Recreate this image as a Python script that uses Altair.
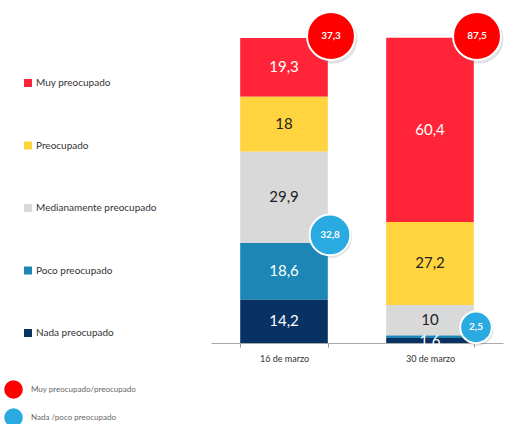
import altair as alt
import pandas as pd

dates = ["16 de marzo", "30 de marzo"]
categories = ["Muy preocupado", "Preocupado", "Medianamente preocupado",
              "Poco preocupado", "Nada preocupado"]
colors = ["#FF2438", "#FFD43F", "#D9D9D9", "#1C86B5", "#073263"]
vals_16 = [19.3, 18, 29.9, 18.6, 14.2]
vals_30 = [60.4, 27.2, 10, 0.9, 1.6]

bubble_groups = ["Muy preocupado/preocupado", "Nada /poco preocupado"]
bubble_colors = ["#FF0000", "#29ABE2"]
worried_totals = [37.3, 87.5]
calm_totals = [32.8, 2.5]

FONT = "Lato"


def fmt(v):
    return f"{v:g}".replace(".", ",")


rows = []
for d, vals in zip(dates, [vals_16, vals_30]):
    for i, (c, v) in enumerate(zip(categories, vals)):
        rows.append({"date": d, "cat": c, "idx": len(categories) - i,
                     "value": v, "label": fmt(v)})
df = pd.DataFrame(rows)

brows = []
for d, vals, w, cl in zip(dates, [vals_16, vals_30], worried_totals, calm_totals):
    brows.append({"date": d, "group": bubble_groups[0], "value": w,
                  "label": fmt(w), "ypos": min(sum(vals), 100)})
    brows.append({"date": d, "group": bubble_groups[1], "value": cl,
                  "label": fmt(cl), "ypos": cl})
bdf = pd.DataFrame(brows)

xenc = alt.X("date:N",
             scale=alt.Scale(domain=dates, paddingInner=0.4, paddingOuter=0.2),
             axis=alt.Axis(title=None, labelAngle=0, tickBand="extent",
                           labelFont=FONT, labelFontSize=9, labelColor="#333",
                           labelPadding=7, tickSize=4, tickColor="#999",
                           domainColor="#aaa", domainWidth=1.2))
yscale = alt.Scale(domain=[0, 100], nice=False, zero=True)

base = alt.Chart(df).transform_stack(
    stack="value", groupby=["date"], sort=[alt.SortField("idx", order="ascending")],
    as_=["y0", "y1"]
)

bars = base.mark_bar(stroke=None).encode(
    x=xenc,
    y=alt.Y("y0:Q", scale=yscale, axis=None),
    y2="y1:Q",
    color=alt.Color("cat:N",
                    scale=alt.Scale(domain=categories, range=colors),
                    legend=alt.Legend(title=None, orient="none", legendX=-188,
                                      legendY=40, symbolType="square",
                                      symbolSize=64, symbolStrokeWidth=0,
                                      labelFont=FONT, labelFontSize=10,
                                      labelColor="#333", rowPadding=52.5,
                                      labelOffset=3, labelLimit=300)),
)

texts = base.transform_calculate(
    mid="(datum.y0 + datum.y1) / 2"
).transform_filter("datum.value >= 1").mark_text(
    font=FONT, fontSize=15, baseline="middle"
).encode(
    x=alt.X("date:N", scale=alt.Scale(domain=dates, paddingInner=0.4, paddingOuter=0.2)),
    y=alt.Y("mid:Q", scale=yscale),
    text="label:N",
    color=alt.condition(
        "datum.cat == 'Preocupado' || datum.cat == 'Medianamente preocupado'",
        alt.value("#222222"), alt.value("#ffffff")),
)

bbase = alt.Chart(bdf)
fill_enc = alt.Fill("group:N",
                    scale=alt.Scale(domain=bubble_groups, range=bubble_colors),
                    legend=alt.Legend(title=None, orient="none", legendX=-207,
                                      legendY=342, symbolType="circle",
                                      symbolSize=346, symbolStrokeWidth=0,
                                      labelFont=FONT, labelFontSize=8,
                                      labelColor="#666", rowPadding=9,
                                      labelOffset=8, labelLimit=300))

red = bbase.transform_filter(f"datum.group == '{bubble_groups[0]}'")
blue = bbase.transform_filter(f"datum.group == '{bubble_groups[1]}'")

red_shadow = red.mark_circle(xOffset=49, yOffset=1, opacity=0.22, color="#777").encode(
    x="date:N", y=alt.Y("ypos:Q", scale=yscale), size=alt.value(2400))
red_c = red.mark_circle(xOffset=47, yOffset=-2, opacity=1, stroke="white",
                        strokeWidth=2).encode(
    x="date:N", y=alt.Y("ypos:Q", scale=yscale), fill=fill_enc, size=alt.value(2300))
red_t = red.mark_text(xOffset=47, yOffset=-2, font=FONT, fontSize=10,
                      fontWeight="bold", color="white").encode(
    x="date:N", y=alt.Y("ypos:Q", scale=yscale), text="label:N")

bsize = alt.Size("value:Q", scale=alt.Scale(domain=[2.5, 32.8], range=[1000, 1660]),
                 legend=None)
blue_shadow = blue.mark_circle(xOffset=47, yOffset=-6, opacity=0.22, color="#777").encode(
    x="date:N", y=alt.Y("ypos:Q", scale=yscale),
    size=alt.Size("value:Q", scale=alt.Scale(domain=[2.5, 32.8], range=[1080, 1760]),
                  legend=None))
blue_c = blue.mark_circle(xOffset=46, yOffset=-8, opacity=1, stroke="white",
                          strokeWidth=2).encode(
    x="date:N", y=alt.Y("ypos:Q", scale=yscale), fill=fill_enc, size=bsize)
blue_t = blue.mark_text(xOffset=46, yOffset=-8, font=FONT, fontSize=10,
                        fontWeight="bold", color="white").encode(
    x="date:N", y=alt.Y("ypos:Q", scale=yscale), text="label:N")

chart = alt.layer(
    bars, texts, red_shadow, red_c, red_t, blue_shadow, blue_c, blue_t
).resolve_scale(size="independent").properties(
    width=292, height=305,
    autosize=alt.AutoSizeParams(type="none"),
    padding={"left": 211, "top": 38, "right": 7, "bottom": 81},
    background="white",
).configure_view(stroke=None)

chart.save("out.html", embed_options={"renderer": "svg", "actions": False})
